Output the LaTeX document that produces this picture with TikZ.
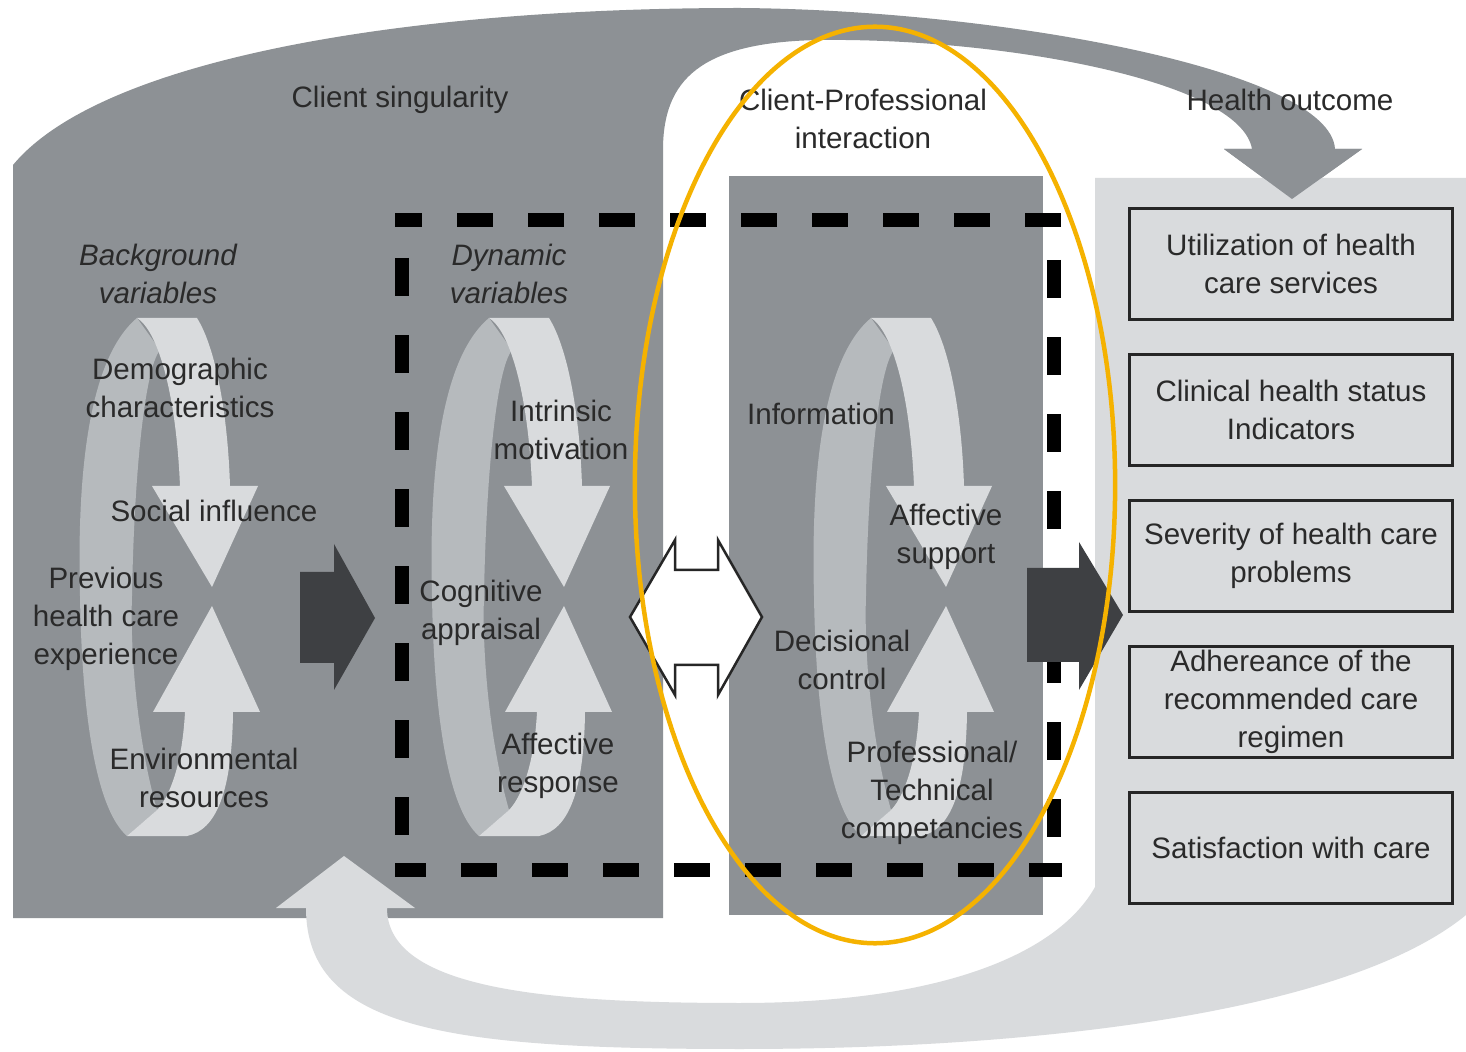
\documentclass[tikz,border=0pt]{standalone}
\usepackage{fontspec}
\setmainfont{Liberation Sans}
\usetikzlibrary{positioning}
\definecolor{bandgray}{RGB}{141,145,149}
\definecolor{palegray}{RGB}{217,219,221}
\definecolor{ribbongray}{RGB}{182,186,189}
\definecolor{arrowgray}{RGB}{62,64,67}
\definecolor{inkgray}{RGB}{42,42,42}
\definecolor{ringorange}{RGB}{245,178,0}
\tikzset{
  txt/.style={font=\fontsize{8.4}{10.8}\selectfont, text=inkgray, align=center, inner sep=0pt},
  itxt/.style={txt, font=\fontsize{8.4}{10.8}\selectfont\itshape},
  resultbox/.style={txt, draw=black!85, line width=0.03cm, fill=palegray, minimum width=3.22cm, minimum height=1.11cm},
  hdash/.style={line width=0.145cm, dash pattern=on 0.36cm off 0.35cm},
  vdash/.style={line width=0.145cm, dash pattern=on 0.38cm off 0.39cm},
  blockarrow/.style={fill=arrowgray}
}
\begin{document}
\begin{tikzpicture}[x=0.01cm, y=-0.01cm]
        \useasboundingbox (0,0) rectangle (1466,1052);
        \fill[white] (0,0) rectangle (1466,1052);

        \fill[bandgray] (13,918) -- (13,165) .. controls (100,60) and (400,8) .. (740,8)
          .. controls (1000,10) and (1330,70) .. (1335,149) -- (1362,149) -- (1292,199)
          -- (1224,149) -- (1252,149) .. controls (1240,80) and (1000,38) .. (820,40)
          .. controls (700,42) and (663,80) .. (663,150) -- (663,918) -- cycle;
        \fill[bandgray] (729,176) rectangle (1043,915);
        \fill[palegray] (306,908) -- (276,908) -- (344,856) -- (415,908) -- (387,908)
          .. controls (387,990) and (550,1003) .. (740,1003)
          .. controls (950,1003) and (1060,950) .. (1095,887) -- (1095,178) -- (1466,178)
          -- (1466,915) .. controls (1350,1010) and (1050,1049) .. (740,1049)
          .. controls (450,1049) and (306,1030) .. (306,908) -- cycle;
        \fill[bandgray] (1224,149) -- (1362,149) -- (1292,199) -- cycle;

        \foreach \ax in {212,564,946}{
          \fill[ribbongray] (\ax-75,318) .. controls (\ax-125,360) and (\ax-135,480) .. (\ax-132,596)
            .. controls (\ax-130,720) and (\ax-115,810) .. (\ax-85,836) -- (\ax-55,810)
            .. controls (\ax-75,740) and (\ax-82,650) .. (\ax-80,596)
            .. controls (\ax-78,480) and (\ax-68,370) .. (\ax-52,350) -- cycle;
          \fill[palegray] (\ax-75,318) -- (\ax-15,318) .. controls (\ax+5,350) and (\ax+16,420) .. (\ax+18,486)
            -- (\ax+46,486) -- (\ax,587) -- (\ax-60,486) -- (\ax-32,486)
            .. controls (\ax-36,390) and (\ax-55,330) .. (\ax-75,318) -- cycle;
          \fill[palegray] (\ax-85,836) -- (\ax-25,836) .. controls (\ax+5,830) and (\ax+20,790) .. (\ax+21,712)
            -- (\ax+48,712) -- (\ax,606) -- (\ax-59,712) -- (\ax-27,712)
            .. controls (\ax-30,770) and (\ax-45,800) .. (\ax-55,810) -- cycle;
        }

        \draw[hdash, dash phase=0.09cm] (395,220) -- (1062,220);
        \draw[hdash, dash phase=0.05cm] (395,870) -- (1062,870);
        \draw[vdash] (402,258) -- (402,836);
        \draw[vdash] (1054,260) -- (1054,838);

        \fill[blockarrow] (300,572) -- (334,572) -- (334,544) -- (375,618) -- (334,690) -- (334,663) -- (300,663) -- cycle;
        \fill[blockarrow] (1027,568) -- (1079,568) -- (1079,542) -- (1123,615) -- (1079,690) -- (1079,662) -- (1027,662) -- cycle;
        \filldraw[fill=white, draw=black!85, line width=0.025cm] (630,617) -- (675,540) -- (675,570) -- (718,570)
          -- (718,540) -- (762,617) -- (718,695) -- (718,665) -- (675,665) -- (675,695) -- cycle;

        \node[txt] (singularity) at (400,100) {Client singularity};
        \node[txt] (interaction) at (863,119) {Client-Professional\\interaction};
        \node[txt] (healthout) at (1290,100) {Health outcome};
        \node[itxt] (background) at (158,274) {Background\\variables};
        \node[itxt] (dynamic) at (509,274) {Dynamic\\variables};
        \node[txt] (demographic) at (180,388) {Demographic\\characteristics};
        \node[txt] (social) at (214,511) {Social influence};
        \node[txt] (previous) at (106,619) {Previous\\health care\\experience};
        \node[txt] (environmental) at (204,778) {Environmental\\resources};
        \node[txt] (intrinsic) at (561,430) {Intrinsic\\motivation};
        \node[txt] (cognitive) at (481,613) {Cognitive\\appraisal};
        \node[txt] (affresp) at (558,766) {Affective\\response};
        \node[txt] (information) at (821,414) {Information};
        \node[txt] (affsupp) at (946,537) {Affective\\support};
        \node[txt] (decisional) at (842,660) {Decisional\\control};
        \node[txt] (competence) at (932,793) {Professional/\\Technical\\competancies};

        \node[resultbox] (util) at (1291,264) {Utilization of health\\care services};
        \node[resultbox, below=0.32cm of util] (clinical) {Clinical health status\\Indicators};
        \node[resultbox, below=0.32cm of clinical] (severity) {Severity of health care\\problems};
        \node[resultbox, below=0.32cm of severity] (adherence) {Adhereance of the\\recommended care\\regimen};
        \node[resultbox, below=0.32cm of adherence] (satisfaction) {Satisfaction with care};

        \draw[ringorange, line width=0.045cm] (875,485) ellipse [x radius=2.4cm, y radius=4.58cm];
\end{tikzpicture}
\end{document}
